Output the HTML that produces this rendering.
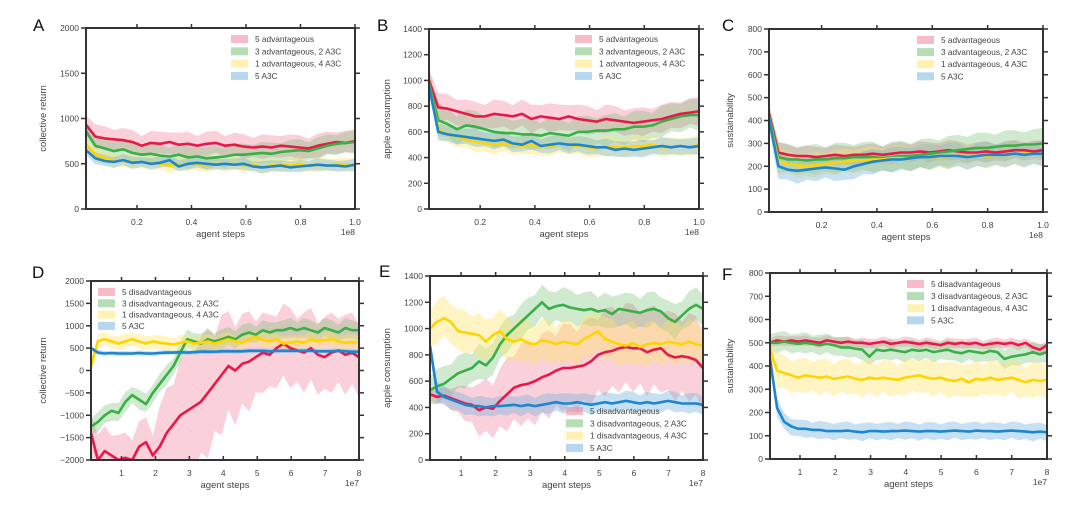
<!DOCTYPE html>
<html><head><meta charset="utf-8"><style>
html,body{margin:0;padding:0;background:#fff;}
svg{display:block;font-family:"Liberation Sans",sans-serif;}
</style></head><body>
<svg id="fig" width="1080" height="514" viewBox="0 0 1080 514" xmlns="http://www.w3.org/2000/svg"></svg>
<script>
// ---------- data ----------
const seriesNames = ["red","green","yellow","blue"];
const advLabels = ["5 advantageous","3 advantageous, 2 A3C","1 advantageous, 4 A3C","5 A3C"];
const disLabels = ["5 disadvantageous","3 disadvantageous, 2 A3C","1 disadvantageous, 4 A3C","5 A3C"];
const ticksTop = [0.2,0.4,0.6,0.8,1.0];
const tickLabelsTop = ["0.2","0.4","0.6","0.8","1.0"];
const ticksBottom = [1,2,3,4,5,6,7,8];
const tickLabelsBottom = ["1","2","3","4","5","6","7","8"];
const returnTicks = [-2000,-1500,-1000,-500,0,500,1000,1500,2000];
const appleTicks = [0,200,400,600,800,1000,1200,1400];
const sustTicks = [0,100,200,300,400,500,600,700,800];

const A_red = [930,800,780,770,760,740,700,730,720,740,710,720,700,720,730,700,710,690,680,690,680,700,690,680,670,700,720,740,730,750];
const A_green = [860,700,670,640,660,620,600,610,590,580,600,570,580,560,570,580,600,600,610,620,610,630,640,650,640,670,700,720,730,740];
const A_yellow = [720,600,560,540,530,520,510,520,500,480,490,500,490,480,500,490,500,480,490,470,480,490,480,500,470,490,480,500,490,480];
const A_blue = [650,560,530,520,540,510,520,500,510,540,470,500,510,500,490,500,490,500,470,460,470,480,460,470,480,490,480,480,470,490];
const A_spread = [120,110,70,60];

const B_red = [1000,790,780,760,740,720,720,740,730,720,740,700,720,710,700,720,700,690,680,700,690,680,670,680,690,700,720,740,750,760];
const B_green = [980,690,660,620,650,640,620,600,590,590,580,580,570,590,580,570,600,600,610,610,620,620,640,640,650,680,700,720,730,730];
const B_yellow = [960,620,580,560,540,520,510,500,510,500,490,500,480,490,500,500,490,480,470,490,480,480,490,490,500,480,480,490,480,500];
const B_blue = [960,600,580,570,560,550,540,530,540,510,500,530,490,500,510,500,500,490,480,480,460,470,460,470,480,490,480,490,480,490];
const B_spread = [100,110,70,60];

const C_red = [430,260,250,245,245,240,245,250,245,250,250,255,250,255,260,260,265,260,265,270,265,260,260,265,260,265,270,270,265,270];
const C_green = [420,240,230,230,225,230,230,235,235,240,240,240,235,240,245,245,250,255,260,265,270,275,280,280,285,290,290,295,295,300];
const C_yellow = [410,220,210,205,200,205,210,215,220,225,225,230,230,235,235,235,240,240,240,240,245,245,245,245,250,250,250,255,255,255];
const C_blue = [410,200,185,180,185,190,195,190,185,200,210,220,225,230,230,235,240,240,245,245,245,240,245,250,250,250,255,250,255,255];
const C_spread = [40,60,50,50];

const D_red = [-1400,-2000,-1800,-1900,-2000,-1950,-2000,-1700,-1600,-1900,-1700,-1400,-1200,-1000,-900,-800,-700,-500,-300,-100,100,0,150,200,300,400,350,500,600,500,450,400,500,350,300,400,450,350,400,300];
const D_redSpread = [500,500,500,500,500,500,500,500,500,500,800,900,1000,1100,1200,1300,1300,1300,1200,1200,1100,1100,1000,1000,900,800,800,800,800,800,800,800,800,800,800,800,800,800,800,800];
const D_green = [-1250,-1150,-1000,-900,-950,-700,-550,-650,-750,-500,-300,-100,100,400,700,650,600,700,650,700,750,700,800,850,800,900,850,900,900,950,900,950,900,850,950,900,850,950,900,900];
const D_yellow = [100,650,700,650,600,650,700,650,600,650,620,600,580,620,650,600,620,650,600,650,700,650,620,700,750,680,650,700,600,620,650,620,700,650,680,700,650,620,640,620];
const D_blue = [500,400,380,390,380,380,380,390,380,380,390,400,400,410,400,410,420,420,420,430,430,430,430,440,440,440,430,440,440,440,440,440,440,430,430,430,440,430,420,420];
const D_spread = [0,200,150,50];

const E_red = [500,480,490,470,450,430,420,380,400,390,450,500,550,570,580,600,630,650,680,700,700,710,720,750,800,820,830,850,860,850,850,820,840,850,800,780,790,780,760,700];
const E_redSpread = [50,50,60,80,100,120,150,180,200,200,220,250,270,280,300,300,300,300,300,300,300,300,300,300,300,300,300,300,300,300,300,300,300,300,300,300,300,300,300,300];
const E_green = [530,560,580,620,660,680,700,750,720,780,880,950,1000,1050,1100,1150,1200,1150,1170,1180,1160,1150,1140,1150,1130,1140,1110,1150,1140,1130,1120,1140,1150,1130,1080,1050,1100,1150,1180,1150];
const E_yellow = [1000,1050,1080,1050,980,970,960,950,900,950,980,920,900,920,890,880,910,900,880,900,890,880,920,950,980,920,900,880,870,890,860,880,890,880,900,890,880,900,880,870];
const E_blue = [870,520,480,460,440,420,410,410,400,410,410,415,420,410,420,410,420,430,440,430,430,440,430,420,430,440,430,440,450,440,430,440,430,440,450,440,430,430,430,420];
const E_spread = [0,120,150,70];

const F_red = [500,510,505,510,505,510,505,500,510,505,500,505,500,500,495,500,505,495,500,505,500,495,500,495,490,500,495,500,495,500,490,495,500,495,500,490,500,480,470,490];
const F_green = [500,500,505,500,495,500,495,490,495,490,480,480,475,470,440,470,465,470,465,460,470,465,470,460,465,470,460,455,465,460,455,465,460,430,440,445,450,460,450,460];
const F_yellow = [470,380,370,360,350,360,355,350,355,345,350,355,345,340,350,345,350,345,340,350,355,360,350,345,350,340,335,345,330,345,340,350,340,345,350,340,330,340,335,340];
const F_blue = [430,220,160,140,130,130,125,125,120,120,120,122,118,115,120,120,118,120,120,122,120,118,120,120,118,120,122,120,118,122,120,120,118,120,122,120,118,115,118,115];
const F_spread = [20,40,70,35];

// ---------- drawing ----------
const NS="http://www.w3.org/2000/svg";
const svg=document.getElementById('fig');
const lineColors={red:"#e8194a",green:"#3aaf45",yellow:"#ffd500",blue:"#1c86cf"};
const bandColors={red:"rgba(240,120,150,0.35)",green:"rgba(110,190,110,0.32)",yellow:"rgba(255,230,100,0.38)",blue:"rgba(110,175,220,0.38)"};
function mk(tag,attrs,parent){const e=document.createElementNS(NS,tag);for(const k in attrs)e.setAttribute(k,attrs[k]);(parent||svg).appendChild(e);return e;}

function panel(cfg){
  const g=mk('g',{});
  
  
  const L=cfg.box[0],R=cfg.box[1],T=cfg.box[2],B=cfg.box[3];
  const xs=v=>L+(v-cfg.xd[0])/(cfg.xd[1]-cfg.xd[0])*(R-L);
  const ys=v=>B-(v-cfg.yd[0])/(cfg.yd[1]-cfg.yd[0])*(B-T);
  const cid='clip'+cfg.letter;
  const cp=mk('clipPath',{id:cid},g);mk('rect',{x:L,y:T,width:R-L,height:B-T},cp);
  const plot=mk('g',{'clip-path':'url(#'+cid+')'},g);
  // bands
  cfg.series.forEach((s,si)=>{
    const n=s.vals.length;
    const xv=i=>cfg.xd[0]+i*(cfg.xd[1]-cfg.xd[0])/(n-1);
    const sp=i=>Array.isArray(s.spread)?s.spread[i]:s.spread;
    if(!s.spread&&!Array.isArray(s.spread))return;
    let d='';
    for(let i=0;i<n;i++){const j=i%3?1:-1;d+=(i?'L':'M')+xs(xv(i)).toFixed(1)+','+ys(s.vals[i]+sp(i)*(1+0.12*j)).toFixed(1);}
    for(let i=n-1;i>=0;i--){const j=i%2?1:-1;d+='L'+xs(xv(i)).toFixed(1)+','+ys(s.vals[i]-sp(i)*(1+0.12*j)).toFixed(1);}
    const p=mk('path',{d:d+'Z',fill:bandColors[s.key],stroke:'none'},plot);
    
    
  });
  cfg.series.forEach(s=>{
    const n=s.vals.length;
    const xv=i=>cfg.xd[0]+i*(cfg.xd[1]-cfg.xd[0])/(n-1);
    const pts=s.vals.map((v,i)=>xs(xv(i)).toFixed(1)+','+ys(v).toFixed(1)).join(' ');
    const p=mk('polyline',{points:pts,fill:'none',stroke:lineColors[s.key],'stroke-width':2.6,'stroke-linejoin':'round'},plot);
    
    
  });
  // frame
  const fr=mk('rect',{x:L,y:T,width:R-L,height:B-T,fill:'none',stroke:'#333','stroke-width':2},g);
  
  
  // x ticks
  cfg.xt.forEach((v,i)=>{
    const x=xs(v);
    mk('line',{x1:x,x2:x,y1:B,y2:B-4,stroke:'#333','stroke-width':1.5},g);
    mk('line',{x1:x,x2:x,y1:T,y2:T-4,stroke:'#333','stroke-width':1.5},g);
    const t=mk('text',{x:x,y:B+16,'font-size':8.5,fill:'#444','text-anchor':'middle'},g);
    t.textContent=cfg.xl[i];
    
    
  });
  cfg.yt.forEach(v=>{
    const y=ys(v);
    mk('line',{x1:L,x2:L-5,y1:y,y2:y,stroke:'#333','stroke-width':1.5},g);
    mk('line',{x1:R,x2:R+5,y1:y,y2:y,stroke:'#333','stroke-width':1.5},g);
    const t=mk('text',{x:L-7,y:y+3,'font-size':8.5,fill:'#444','text-anchor':'end'},g);
    t.textContent=(v<0?'\u2212'+(-v):String(v));
    
    
  });
  const xl=mk('text',{x:(L+R)/2,y:B+28,'font-size':9.5,fill:'#444','text-anchor':'middle'},g);
  xl.textContent='agent steps';
  
  
  const ex=mk('text',{x:R,y:B+26,'font-size':8.5,fill:'#444','text-anchor':'end'},g);
  ex.textContent=cfg.exp;
  
  
  const yl=mk('text',{x:0,y:0,'font-size':9.5,fill:'#444','text-anchor':'middle',transform:'translate('+(cfg.ylx)+','+((T+B)/2)+') rotate(-90)'},g);
  yl.textContent=cfg.ylabel;
  
  
  const lt=mk('text',{x:cfg.lp[0],y:cfg.lp[1],'font-size':17,fill:'#111'},g);
  lt.textContent=cfg.letter;
  
  
  // legend
  cfg.labels.forEach((lab,i)=>{
    const y=cfg.leg[1]+i*cfg.leg[2];
    const sw=mk('rect',{x:cfg.leg[0],y:y-4,width:17,height:8,fill:bandColors[seriesNames[i]].replace(/0\.\d+\)/,'0.5)')},g);
    
    
    const t=mk('text',{x:cfg.leg[0]+24,y:y+3,'font-size':8.3,fill:'#444'},g);
    t.textContent=lab;
    
    
  });
}
function S(r,g,y,b,sp){return [
  {key:'red',vals:r,spread:sp[0]},{key:'green',vals:g,spread:sp[1]},{key:'yellow',vals:y,spread:sp[2]},{key:'blue',vals:b,spread:sp[3]}];}

panel({letter:'A',box:[86,355,28,209],xd:[0.013,1],yd:[0,2000],xt:ticksTop,xl:tickLabelsTop,yt:[0,500,1000,1500,2000],exp:'1e8',ylabel:'collective return',ylx:46,lp:[33,31],leg:[231,39,12.3],labels:advLabels,series:S(A_red,A_green,A_yellow,A_blue,A_spread)});
panel({letter:'B',box:[429,699,29,209],xd:[0.013,1],yd:[0,1400],xt:ticksTop,xl:tickLabelsTop,yt:appleTicks,exp:'1e8',ylabel:'apple consumption',ylx:390,lp:[377,31],leg:[575,39,12.3],labels:advLabels,series:S(B_red,B_green,B_yellow,B_blue,B_spread)});
panel({letter:'C',box:[769,1043,29,212],xd:[0.01,1],yd:[0,800],xt:ticksTop,xl:tickLabelsTop,yt:sustTicks,exp:'1e8',ylabel:'sustainability',ylx:733,lp:[722,31],leg:[917,40,12.1],labels:advLabels,series:S(C_red,C_green,C_yellow,C_blue,C_spread)});
panel({letter:'D',box:[91,359,281,460],xd:[0.1,8],yd:[-2000,2000],xt:ticksBottom,xl:tickLabelsBottom,yt:returnTicks,exp:'1e7',ylabel:'collective return',ylx:46,lp:[32,278],leg:[98,292,11.3],labels:disLabels,series:S(D_red,D_green,D_yellow,D_blue,[D_redSpread,D_spread[1],D_spread[2],D_spread[3]])});
panel({letter:'E',box:[430,703,276,460],xd:[0.1,8],yd:[0,1400],xt:ticksBottom,xl:tickLabelsBottom,yt:appleTicks,exp:'1e7',ylabel:'apple consumption',ylx:390,lp:[379,277],leg:[566,411,12.3],labels:disLabels,series:S(E_red,E_green,E_yellow,E_blue,[E_redSpread,E_spread[1],E_spread[2],E_spread[3]])});
panel({letter:'F',box:[770,1047,273,459],xd:[0.15,8],yd:[0,800],xt:ticksBottom,xl:tickLabelsBottom,yt:sustTicks,exp:'1e7',ylabel:'sustainability',ylx:733,lp:[722,280],leg:[907,284,12.1],labels:disLabels,series:S(F_red,F_green,F_yellow,F_blue,F_spread)});
</script>
</body></html>
